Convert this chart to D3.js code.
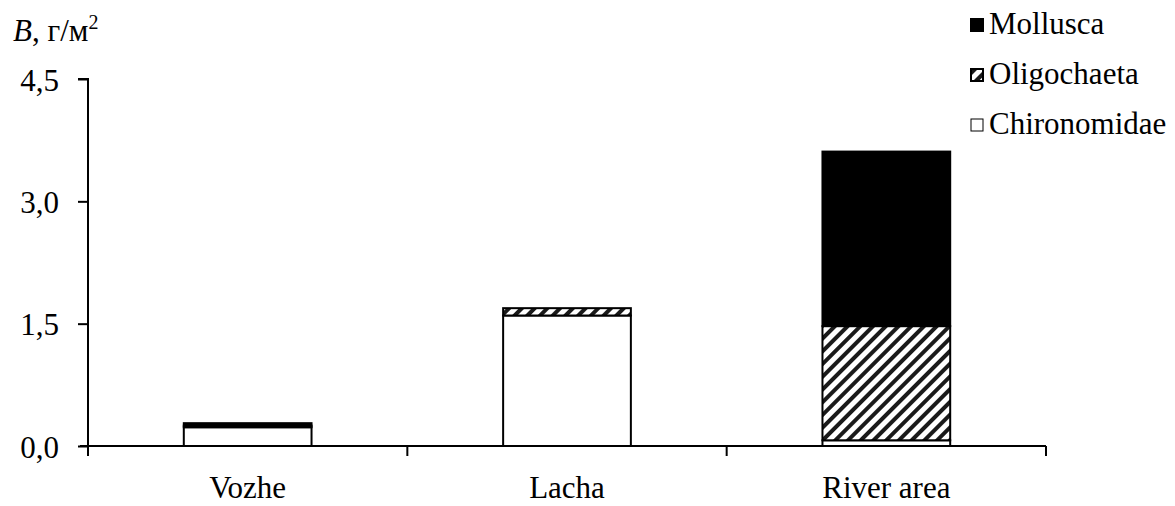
<!DOCTYPE html>
<html>
<head>
<meta charset="utf-8">
<script src="https://cdn.jsdelivr.net/npm/d3@7"></script>
<style>
  body { margin: 0; background: #fff; }
</style>
</head>
<body>
<div id="chart"></div>
<script>
// data
var sites = ['Vozhe', 'Lacha', 'River area']
var chironomidae = [0.23, 1.60, 0.07]
var oligochaeta = [0.02, 0.09, 1.40]
var mollusca = [0.03, 0.00, 2.14]
var yTicks = [0, 1.5, 3.0, 4.5]
var groups = ['Chironomidae', 'Oligochaeta', 'Mollusca']

var serif = "'Liberation Serif', 'Times New Roman', Tinos, serif"
var fs = 31
var width = 1175, height = 506
var svg = d3.select('#chart').append('svg')
  .attr('width', width).attr('height', height)
  .style('font-family', serif)

// hatch for oligochaeta
var defs = svg.append('defs')
defs.append('pattern')
  .attr('id', 'hatch')
  .attr('patternUnits', 'userSpaceOnUse')
  .attr('width', 9).attr('height', 9)
  .attr('patternTransform', 'rotate(45)')
  .call(p => {
    p.append('rect').attr('width', 9).attr('height', 9).attr('fill', '#fff')
    p.append('rect').attr('width', 4).attr('height', 9).attr('fill', '#1a1a1a')
  })

var fills = { Chironomidae: '#fff', Oligochaeta: 'url(#hatch)', Mollusca: '#000' }

var x = d3.scaleBand()
  .domain(sites)
  .range([88, 1046])
  .paddingInner(0.6)
  .paddingOuter(0.3)

var y = d3.scaleLinear()
  .domain([0, 4.5])
  .range([446, 79])

var table = sites.map(function(s, i) {
  return { site: s, Chironomidae: chironomidae[i], Oligochaeta: oligochaeta[i], Mollusca: mollusca[i] }
})
var series = d3.stack().keys(groups)(table)

svg.append('g')
  .selectAll('g')
  .data(series)
  .enter().append('g')
  .attr('fill', d => fills[d.key])
  .selectAll('rect')
  .data(d => d.filter(v => v[1] - v[0] > 0))
  .enter().append('rect')
  .attr('x', d => x(d.data.site))
  .attr('width', x.bandwidth())
  .attr('y', d => y(d[1]))
  .attr('height', d => y(d[0]) - y(d[1]))
  .attr('stroke', '#000')
  .attr('stroke-width', 2)

// y axis
var yAxis = svg.append('g')
  .attr('transform', 'translate(88,0)')
  .call(d3.axisLeft(y).tickValues(yTicks).tickSize(10).tickPadding(19)
    .tickFormat(d => d3.format('.1f')(d).replace('.', ',')))
yAxis.attr('font-family', null)
yAxis.select('.domain').attr('stroke-width', 2).attr('d', 'M-10,' + y(4.5) + 'H0V' + (y(0) + 8))
yAxis.selectAll('.tick line').attr('stroke-width', 2)
yAxis.selectAll('.tick text').attr('font-size', fs).attr('dy', '0.36em')

// x axis
var edges = sites.map(s => x(s) - (x.step() - x.bandwidth()) / 2)
edges.push(x.range()[1])
var xAxis = svg.append('g')
xAxis.append('line')
  .attr('x1', 80).attr('x2', x.range()[1])
  .attr('y1', y(0)).attr('y2', y(0))
  .attr('stroke', '#000').attr('stroke-width', 2)
xAxis.selectAll('.xt')
  .data(edges)
  .enter().append('line')
  .attr('x1', d => d).attr('x2', d => d)
  .attr('y1', y(0)).attr('y2', y(0) + 10)
  .attr('stroke', '#000').attr('stroke-width', 2)
xAxis.selectAll('.xl')
  .data(sites)
  .enter().append('text')
  .attr('x', d => x(d) + x.bandwidth() / 2)
  .attr('y', 498)
  .attr('text-anchor', 'middle')
  .attr('font-size', fs)
  .text(d => d)

// y label
var yl = svg.append('text').attr('x', 13).attr('y', 41)
  .attr('font-size', fs)
yl.append('tspan').attr('font-style', 'italic').text('B')
yl.append('tspan').text(', г/м')
yl.append('tspan').attr('font-size', 20).attr('dy', -12).text('2')

// legend
var legend = svg.append('g')
  .selectAll('g')
  .data(groups.slice().reverse())
  .enter().append('g')
  .attr('transform', (d, i) => 'translate(970,' + (34 + i * 50) + ')')
legend.append('rect')
  .attr('x', 1).attr('y', -15)
  .attr('width', 12).attr('height', 12)
  .attr('fill', d => fills[d])
  .attr('stroke', '#000')
  .attr('stroke-width', d => d === 'Chironomidae' ? 1 : 2)
legend.append('text')
  .attr('x', 19)
  .attr('font-size', fs)
  .text(d => d)
</script>
</body>
</html>
